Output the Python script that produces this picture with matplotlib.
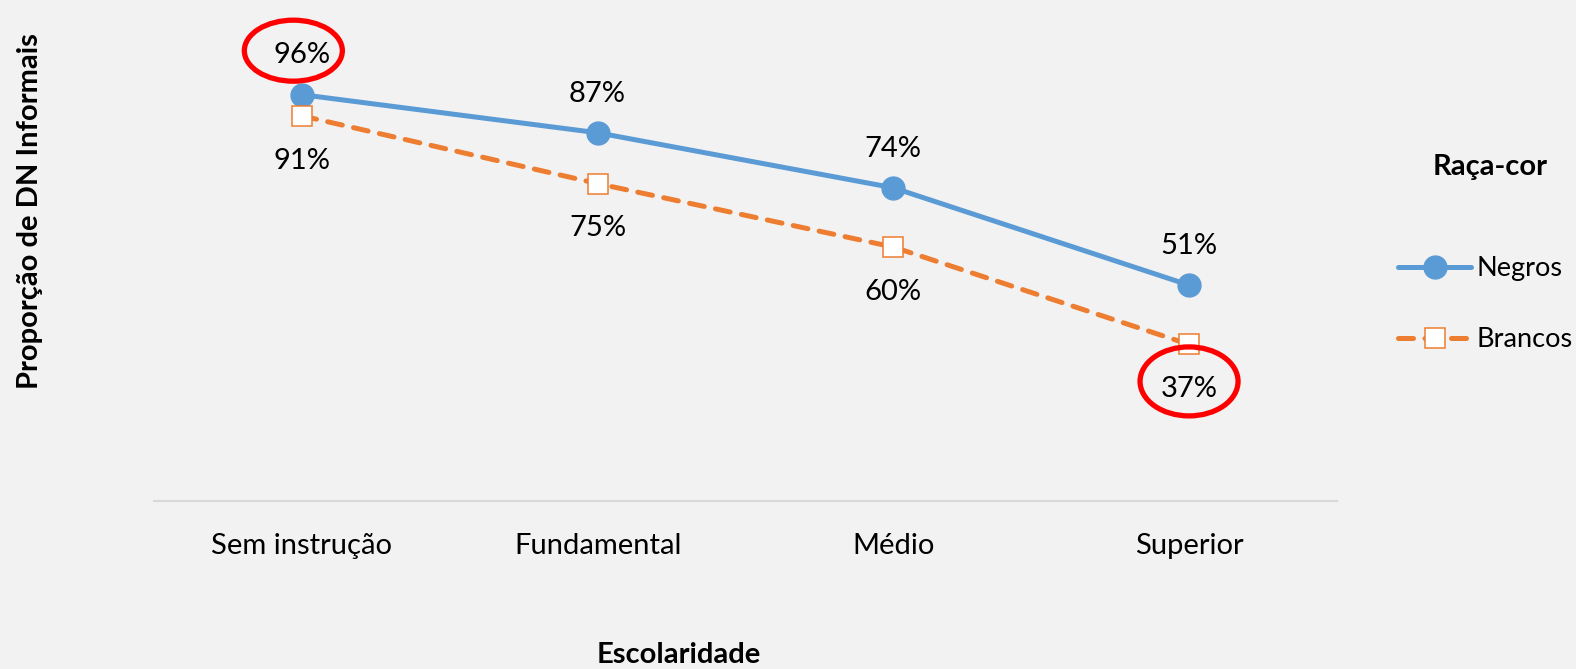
import matplotlib.pyplot as plt
import matplotlib.transforms as mtransforms
from matplotlib.patches import Ellipse

# dados
escolaridade = ['Sem instrução', 'Fundamental', 'Médio', 'Superior']
negros = [0.96, 0.87, 0.74, 0.51]
brancos = [0.91, 0.75, 0.60, 0.37]

cor_negros = '#5b9bd5'
cor_brancos = '#ed7d31'
fundo = '#f2f2f2'

plt.rcParams['font.family'] = ['Lato', 'DejaVu Sans']
fs = 21

fig = plt.figure(figsize=(15.76, 6.69), dpi=100, facecolor=fundo)
ax = fig.add_axes([0.0977, 0.2511, 0.7506, 0.6327])
ax.set_facecolor(fundo)

x = list(range(len(escolaridade)))
ax.plot(x, negros, color=cor_negros, lw=3.6, marker='o', markersize=16.5,
        solid_capstyle='round', label='Negros', zorder=3)
ax.plot(x, brancos, color=cor_brancos, lw=3.6, dashes=(3.0, 2.3),
        dash_capstyle='round', marker='s', markersize=14,
        markerfacecolor='white', markeredgecolor=cor_brancos,
        markeredgewidth=1.1, label='Brancos', zorder=3)

# rótulos de dados
for i in x:
    ax.annotate(f'{negros[i]:.0%}', (i, negros[i]), xytext=(0, 22.5),
                textcoords='offset points', ha='center', va='baseline',
                fontsize=fs)
    ax.annotate(f'{brancos[i]:.0%}', (i, brancos[i]), xytext=(0, -38),
                textcoords='offset points', ha='center', va='baseline',
                fontsize=fs)

# destaques em vermelho (tamanho em polegadas, posição no ponto)
def destaque(xi, yi, dx, dy, w, h):
    trans = fig.dpi_scale_trans + mtransforms.ScaledTranslation(xi, yi, ax.transData)
    ax.add_patch(Ellipse((dx, dy), w, h, transform=trans, fill=False,
                         ec='#ff0000', lw=3.8, zorder=4, clip_on=False))

destaque(0, negros[0], -0.085, 0.44, 0.98, 0.61)
destaque(3, brancos[3], 0.0, -0.37, 0.98, 0.69)

ax.set_xlim(-0.5, len(escolaridade) - 0.5)
ax.set_ylim(0, 1.0)
ax.set_xticks(x)
ax.set_xticklabels(escolaridade, fontsize=fs)
ax.tick_params(axis='x', length=0, pad=23)
ax.set_yticks([])
for lado in ['top', 'right', 'left']:
    ax.spines[lado].set_visible(False)
ax.spines['bottom'].set_color('#d9d9d9')
ax.spines['bottom'].set_linewidth(1.5)

fig.text(679 / 1576, 1 - 655 / 669, 'Escolaridade', fontsize=fs,
         fontweight='bold', ha='center', va='center')
fig.text(30 / 1576, 1 - 211 / 669, 'Proporção de DN Informais', fontsize=fs,
         fontweight='bold', rotation=90, ha='center', va='center')

# legenda
fig.text(1490 / 1576, 1 - 167 / 669, 'Raça-cor', fontsize=fs,
         fontweight='bold', ha='center', va='center')
ax.legend(loc='upper left', bbox_to_anchor=(1398 / 1576, 1 - 256 / 669),
          bbox_transform=fig.transFigure, frameon=False, fontsize=19.5,
          handlelength=2.7, handletextpad=0.2, labelspacing=1.7,
          borderpad=0, borderaxespad=0)

fig.savefig('out.png', dpi=100, facecolor=fundo)
